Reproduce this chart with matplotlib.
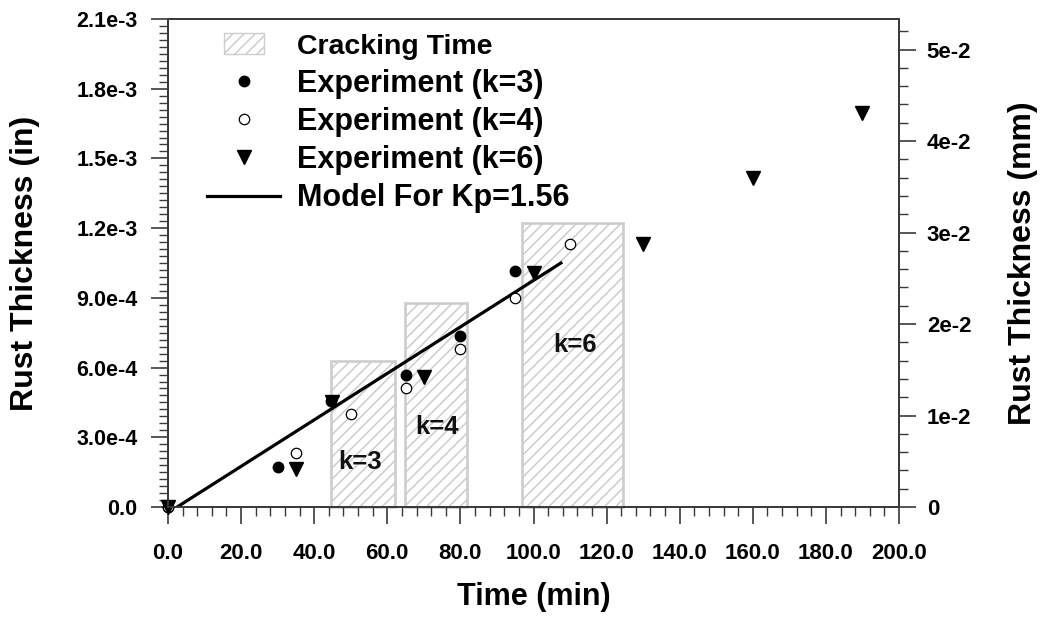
import matplotlib
matplotlib.use("Agg")
import matplotlib.pyplot as plt
import matplotlib.patches as mpatches
from matplotlib.legend_handler import HandlerPatch
from matplotlib.lines import Line2D
from matplotlib.ticker import MultipleLocator, FixedLocator, FixedFormatter
from matplotlib import font_manager

# ---- data (rust thickness in inches vs time in minutes) ----
t_k3 = [0, 30.0, 44.5, 65.0, 80.0, 95.0]
y_k3 = [0, 1.74e-4, 4.55e-4, 5.68e-4, 7.38e-4, 1.017e-3]

t_k4 = [0, 35.0, 50.0, 65.0, 80.0, 95.0, 110.0]
y_k4 = [0, 2.31e-4, 4.00e-4, 5.11e-4, 6.80e-4, 9.00e-4, 1.132e-3]

t_k6 = [0, 35.0, 45.0, 70.0, 100.0, 130.0, 160.0, 190.0]
y_k6 = [0, 1.62e-4, 4.50e-4, 5.60e-4, 1.005e-3, 1.133e-3, 1.414e-3, 1.694e-3]

t_model = [2.5, 107.5]
y_model = [0.0, 1.05e-3]

crack_start = [44.7, 64.9, 96.8]
crack_end = [62.0, 81.8, 124.5]
crack_top = [6.3e-4, 8.77e-4, 1.22e-3]
crack_labels = ["k=3", "k=4", "k=6"]
crack_label_x = [52.5, 73.5, 111.4]
crack_label_y = [1.95e-4, 3.46e-4, 6.97e-4]

x_ticks = [0, 20, 40, 60, 80, 100, 120, 140, 160, 180, 200]
x_ticklabels = ["0.0", "20.0", "40.0", "60.0", "80.0", "100.0", "120.0",
                "140.0", "160.0", "180.0", "200.0"]
y_ticks = [0, 3e-4, 6e-4, 9e-4, 1.2e-3, 1.5e-3, 1.8e-3, 2.1e-3]
y_ticklabels = ["0.0", "3.0e-4", "6.0e-4", "9.0e-4", "1.2e-3", "1.5e-3", "1.8e-3", "2.1e-3"]
mm_ticks = [0, 0.01, 0.02, 0.03, 0.04, 0.05]
mm_ticklabels = ["0", "1e-2", "2e-2", "3e-2", "4e-2", "5e-2"]

IN_TO_MM = 25.4

# ---- fonts ----
installed = {f.name for f in font_manager.fontManager.ttflist}
base = "Liberation Sans" if "Liberation Sans" in installed else "DejaVu Sans"
narrow = "Liberation Sans Narrow" if "Liberation Sans Narrow" in installed else None
plt.rcParams["font.family"] = [base, "DejaVu Sans"]
plt.rcParams["font.weight"] = "bold"
plt.rcParams["hatch.linewidth"] = 1.1

spine_col = "#3a3a3a"
hatch_col = "#cdcdcd"

fig = plt.figure(figsize=(10.41, 6.17), dpi=100)
W, H = 1041, 617
ax = fig.add_axes([168 / W, 1 - 507 / H, (899 - 168) / W, (507 - 19) / H])

ax.set_xlim(0, 200)
ax.set_ylim(0, 2.1e-3)

# cracking-time windows
widths = [e - s for s, e in zip(crack_start, crack_end)]
ax.bar(crack_start, crack_top, width=widths, align="edge", color="white",
       edgecolor=hatch_col, hatch="///", linewidth=1.9, zorder=1, clip_on=False)
for lx, ly, lab in zip(crack_label_x, crack_label_y, crack_labels):
    ax.text(lx, ly, lab, ha="center", va="center", fontsize=18.5, fontweight="bold",
            color="#111111", zorder=2)

# model line and experiments
ax.plot(t_model, y_model, color="black", lw=2.3, zorder=3)
ax.plot(t_k3, y_k3, "o", color="black", ms=7.5, zorder=4, clip_on=False)
ax.plot(t_k4, y_k4, "o", mfc="white", mec="black", mew=0.9, ms=7.5, zorder=4,
        clip_on=False)
ax.plot(t_k6, y_k6, "v", color="black", ms=9.5, zorder=5, clip_on=False)

# axes styling
for side in ["left", "right", "top", "bottom"]:
    ax.spines[side].set_color(spine_col)
    ax.spines[side].set_linewidth(1.3)

ax.xaxis.set_major_locator(FixedLocator(x_ticks))
ax.xaxis.set_major_formatter(FixedFormatter(x_ticklabels))
ax.xaxis.set_minor_locator(MultipleLocator(4))
ax.yaxis.set_major_locator(FixedLocator(y_ticks))
ax.yaxis.set_major_formatter(FixedFormatter(y_ticklabels))
ax.yaxis.set_minor_locator(MultipleLocator(3e-5))

ax.tick_params(axis="both", which="major", direction="out", length=12,
               width=1.2, color=spine_col)
ax.tick_params(axis="both", which="minor", direction="out", length=6.5,
               width=1.0, color=spine_col)
ax.tick_params(axis="x", which="major", pad=14)
ax.tick_params(axis="y", which="major", pad=10, labelsize=15.5)

for lab in ax.get_xticklabels():
    if narrow:
        lab.set_family(narrow)
        lab.set_fontsize(18.5)
    else:
        lab.set_fontsize(16)
    lab.set_fontweight("bold")
for lab in ax.get_yticklabels():
    lab.set_fontweight("bold")

ax.set_xlabel("Time (min)", fontsize=22, fontweight="bold", va="center")
ax.set_ylabel("Rust Thickness (in)", fontsize=23, fontweight="bold", va="center")
ax.xaxis.set_label_coords(0.5, (507 - 597) / 488, transform=ax.transAxes)
ax.yaxis.set_label_coords((25 - 168) / 731, 0.5, transform=ax.transAxes)

# secondary axis in millimetres
ax2 = ax.twinx()
ax2.set_ylim(0, 2.1e-3 * IN_TO_MM)
ax2.yaxis.set_major_locator(FixedLocator(mm_ticks))
ax2.yaxis.set_major_formatter(FixedFormatter(mm_ticklabels))
ax2.yaxis.set_minor_locator(MultipleLocator(0.002))
ax2.tick_params(axis="y", which="major", direction="out", length=12, width=1.2,
                color=spine_col, pad=8, labelsize=16)
ax2.tick_params(axis="y", which="minor", direction="out", length=6.5, width=1.0,
                color=spine_col)
for lab in ax2.get_yticklabels():
    lab.set_fontweight("bold")
for side in ["left", "right", "top", "bottom"]:
    ax2.spines[side].set_color(spine_col)
    ax2.spines[side].set_linewidth(1.3)
ax2.set_ylabel("Rust Thickness (mm)", fontsize=23, fontweight="bold", va="center")
ax2.yaxis.set_label_coords((1023 - 168) / 731, 0.5, transform=ax2.transAxes)


# legend
class NarrowPatchHandler(HandlerPatch):
    def __init__(self, frac=0.55, **kw):
        super().__init__(**kw)
        self.frac = frac

    def create_artists(self, legend, orig_handle, xdescent, ydescent, width,
                       height, fontsize, trans):
        w = width * self.frac
        x0 = -xdescent + (width - w) / 2
        p = mpatches.Rectangle((x0, -ydescent), w, height, facecolor="white",
                               edgecolor=hatch_col, hatch="///", linewidth=1.3)
        self.update_prop(p, orig_handle, legend)
        p.set_facecolor("white")
        p.set_edgecolor(hatch_col)
        p.set_transform(trans)
        return [p]


crack_handle = mpatches.Patch(facecolor="white", edgecolor=hatch_col, hatch="///")
h3 = Line2D([], [], ls="none", marker="o", color="black", ms=7.5)
h4 = Line2D([], [], ls="none", marker="o", mfc="white", mec="black", mew=0.9, ms=7.5)
h6 = Line2D([], [], ls="none", marker="v", color="black", ms=9.5)
hm = Line2D([], [], color="black", lw=2.3)
leg = ax.legend([crack_handle, h3, h4, h6, hm],
                ["Cracking Time", "Experiment (k=3)", "Experiment (k=4)",
                 "Experiment (k=6)", "Model For Kp=1.56"],
                handler_map={crack_handle: NarrowPatchHandler(frac=0.55)},
                loc="upper left", bbox_to_anchor=(207 / W, 1 - 33 / H),
                bbox_transform=fig.transFigure, frameon=False, numpoints=1,
                fontsize=22, handlelength=2.4, handletextpad=0.55,
                labelspacing=0.27, borderpad=0, borderaxespad=0)
for txt in leg.get_texts():
    txt.set_fontweight("bold")
leg.get_texts()[0].set_fontsize(20.5)

fig.savefig("out.png", dpi=100)
